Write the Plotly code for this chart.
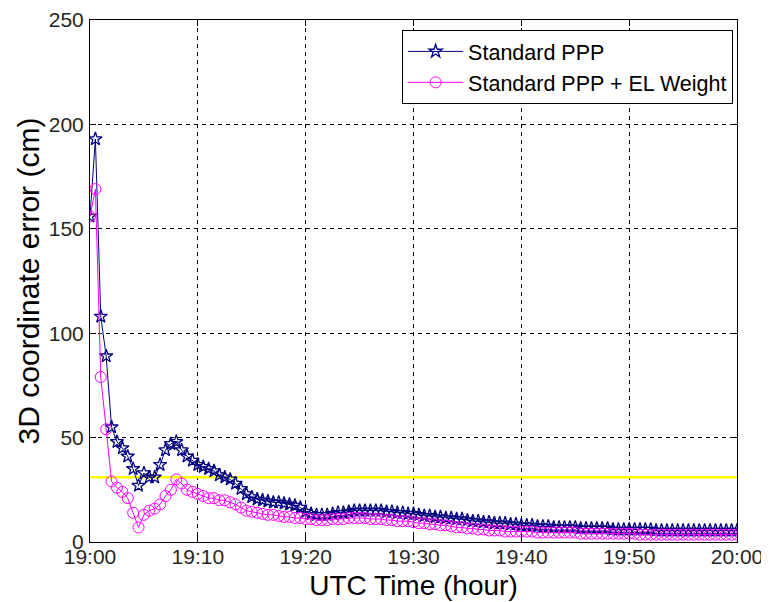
import plotly.graph_objects as go
import pandas as pd

# Epochs: 30-second steps from 19:00:00 to 20:00:00
times = pd.date_range("2015-01-01 19:00:00", "2015-01-01 20:00:00", freq="30s")

std_ppp = [
    156, 193, 108, 89, 55, 48, 45, 41, 35, 27,
    33, 31, 31, 37, 44, 47, 48, 44, 41, 39,
    37, 36, 35, 34, 32, 31, 30, 28, 25.5, 23,
    21.5, 20.5, 20, 19.5, 19, 19, 18.5, 18, 17.5, 16.5,
    14.5, 13.5, 13, 13, 13, 13.5, 14, 14, 14.5, 15,
    15, 15, 15, 15, 15, 14.5, 14.5, 14, 14, 13.5,
    13.5, 13, 12.5, 12.5, 12, 12, 11.5, 11.5, 11, 11,
    10.5, 10, 10, 9.5, 9.5, 9, 9, 9, 8.5, 8.5,
    8, 8, 8, 7.5, 7.5, 7.5, 7, 7, 7, 7,
    7, 6.5, 6.5, 6.5, 6.5, 6.5, 6.5, 6, 6, 6,
    6, 6, 6, 6, 6, 5.5, 5.5, 5.5, 5.5, 5.5,
    5.5, 5.5, 5.5, 5.5, 5.5, 5.5, 5.5, 5.5, 5.5, 5.5,
    5.5,
]

el_weight = [
    156, 169, 79, 54, 29, 26, 24, 21, 14, 7,
    13, 15, 16, 18, 22, 25, 30, 28, 25, 24,
    23, 22, 21, 21, 20, 20, 19, 18, 16.5, 15,
    14.5, 14, 13.5, 13, 13, 12.5, 12, 12, 11.5, 11.5,
    11, 11, 10.5, 10.5, 10.5, 11, 11, 11, 11.5, 11.5,
    11.5, 11.5, 11, 11, 11, 10.5, 10.5, 10, 10, 10,
    9.5, 9, 9, 8.5, 8.5, 8, 8, 7.5, 7, 7,
    6.5, 6.5, 6, 6, 5.5, 5.5, 5.5, 5, 5, 5,
    5, 5, 5, 4.5, 4.5, 4.5, 4.5, 4.5, 4.5, 4.5,
    4.5, 4, 4, 4, 4, 4, 4, 4, 4, 4,
    4, 4, 3.5, 3.5, 3.5, 3.5, 3.5, 3.5, 3.5, 3.5,
    3.5, 3.5, 3.5, 3.5, 3.5, 3.5, 3.5, 3.5, 3.5, 3.5,
    3.5,
]

threshold_x = ["2015-01-01 19:00:00", "2015-01-01 20:00:00"]
threshold_y = [31, 31]

y_ticks = [0, 50, 100, 150, 200, 250]

FONT = "Liberation Sans, Arial, sans-serif"

fig = go.Figure()

fig.add_trace(go.Scatter(
    x=threshold_x, y=threshold_y, mode="lines",
    line=dict(color="#FFFF00", width=2.5),
    showlegend=False, hoverinfo="skip",
))

fig.add_trace(go.Scatter(
    x=times, y=std_ppp, mode="lines+markers", name="Standard PPP",
    line=dict(color="#000080", width=1),
    marker=dict(symbol="star-open", size=10, color="#000080",
                line=dict(width=1.3, color="#000080")),
))

fig.add_trace(go.Scatter(
    x=times, y=el_weight, mode="lines+markers", name="Standard PPP + EL Weight",
    line=dict(color="#FF00FF", width=1),
    marker=dict(symbol="circle-open", size=11, color="#FF00FF",
                line=dict(width=1, color="#FF00FF")),
))

axis_common = dict(
    showline=True, linecolor="black", linewidth=1, mirror="ticks",
    ticks="inside", ticklen=6, tickcolor="black",
    showgrid=True, gridcolor="black", gridwidth=1, griddash="4px,4px",
    zeroline=False, automargin=False,
    tickfont=dict(family=FONT, size=21, color="#262626"),
)

fig.update_xaxes(
    type="date",
    range=["2015-01-01 19:00:00", "2015-01-01 20:00:00"],
    dtick=600000, tick0="2015-01-01 19:00:00", tickformat="%H:%M",
    ticklabelstandoff=-4,
    title=dict(text="UTC Time (hour)", font=dict(family=FONT, size=28, color="black"), standoff=8),
    **axis_common,
)
fig.update_yaxes(
    range=[0, 250], tickvals=y_ticks,
    ticklabelstandoff=1,
    title=dict(text="3D coordinate error (cm)", font=dict(family=FONT, size=30, color="black"), standoff=0),
    **axis_common,
)

# The page body adds an 8px offset; size and margins compensate for it.
fig.update_layout(
    width=761, height=594,
    margin=dict(l=82, r=32, t=12, b=60),
    paper_bgcolor="white", plot_bgcolor="white",
    font=dict(family=FONT, color="black"),
    legend=dict(
        x=0.994, y=0.981, xanchor="right", yanchor="top",
        bgcolor="white", bordercolor="black", borderwidth=1,
        font=dict(family=FONT, size=21.5, color="black"),
        itemwidth=55, tracegroupgap=0,
    ),
    showlegend=True,
)

fig.write_html("out.html")
